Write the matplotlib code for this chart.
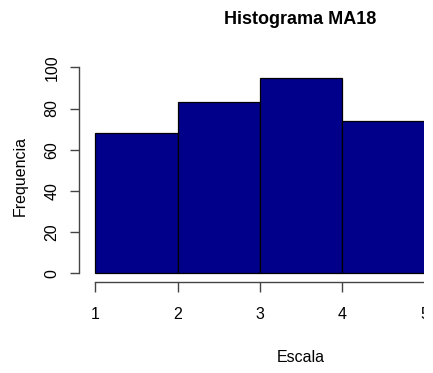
import matplotlib.pyplot as plt
from matplotlib.patches import Rectangle

plt.rcParams['font.family'] = ['Liberation Sans', 'DejaVu Sans']

# histogram data
bin_edges = [1, 2, 3, 4, 5]
counts = [68, 83, 95, 74]
x_ticks = [1, 2, 3, 4, 5]
y_ticks = [0, 20, 40, 60, 80, 100]
title = "Histograma MA18"
xlabel = "Escala"
ylabel = "Frequencia"

fig = plt.figure(figsize=(4.33, 3.73), dpi=100)
ax = fig.add_axes([79 / 433, 91.3 / 373, 362 / 433, 222.6 / 373])

widths = [b - a for a, b in zip(bin_edges[:-1], bin_edges[1:])]
ax.bar(bin_edges[:-1], counts, width=widths, align='edge',
       color='#00008B', edgecolor='black', linewidth=0.9)

ax.set_xlim(0.8, 5.2)
ax.set_ylim(-4.1, 104)
ax.set_xticks(x_ticks)
ax.set_yticks(y_ticks)

for side in ['top', 'right']:
    ax.spines[side].set_visible(False)
ax.spines['left'].set_bounds(0, 100)
ax.spines['bottom'].set_bounds(1, 5)
for side in ['left', 'bottom']:
    ax.spines[side].set_color('#444444')
    ax.spines[side].set_linewidth(1.0)

ax.tick_params(axis='x', length=7.5, width=1.0, color='#444444',
               pad=11, labelsize=11.5)
ax.tick_params(axis='y', length=6.5, width=1.0, color='#444444',
               pad=7.5, labelsize=11.5, labelrotation=90)
for lab in ax.get_yticklabels():
    lab.set_va('center')

fig.text(300 / 433, 1 - 20 / 373, title, ha='center', va='center',
         fontsize=13, fontweight='bold')
fig.text(301 / 433, 1 - 358 / 373, xlabel, ha='center', va='center',
         fontsize=11.5)
fig.text(20 / 433, 1 - 176 / 373, ylabel, ha='center', va='center',
         fontsize=11.5, rotation=90)

# the reference picture is cut off on the right
fig.patches.append(Rectangle((423.5 / 433, 0), 1, 1, transform=fig.transFigure,
                             facecolor='white', edgecolor='none', zorder=10))

fig.savefig("out.png", dpi=100)
